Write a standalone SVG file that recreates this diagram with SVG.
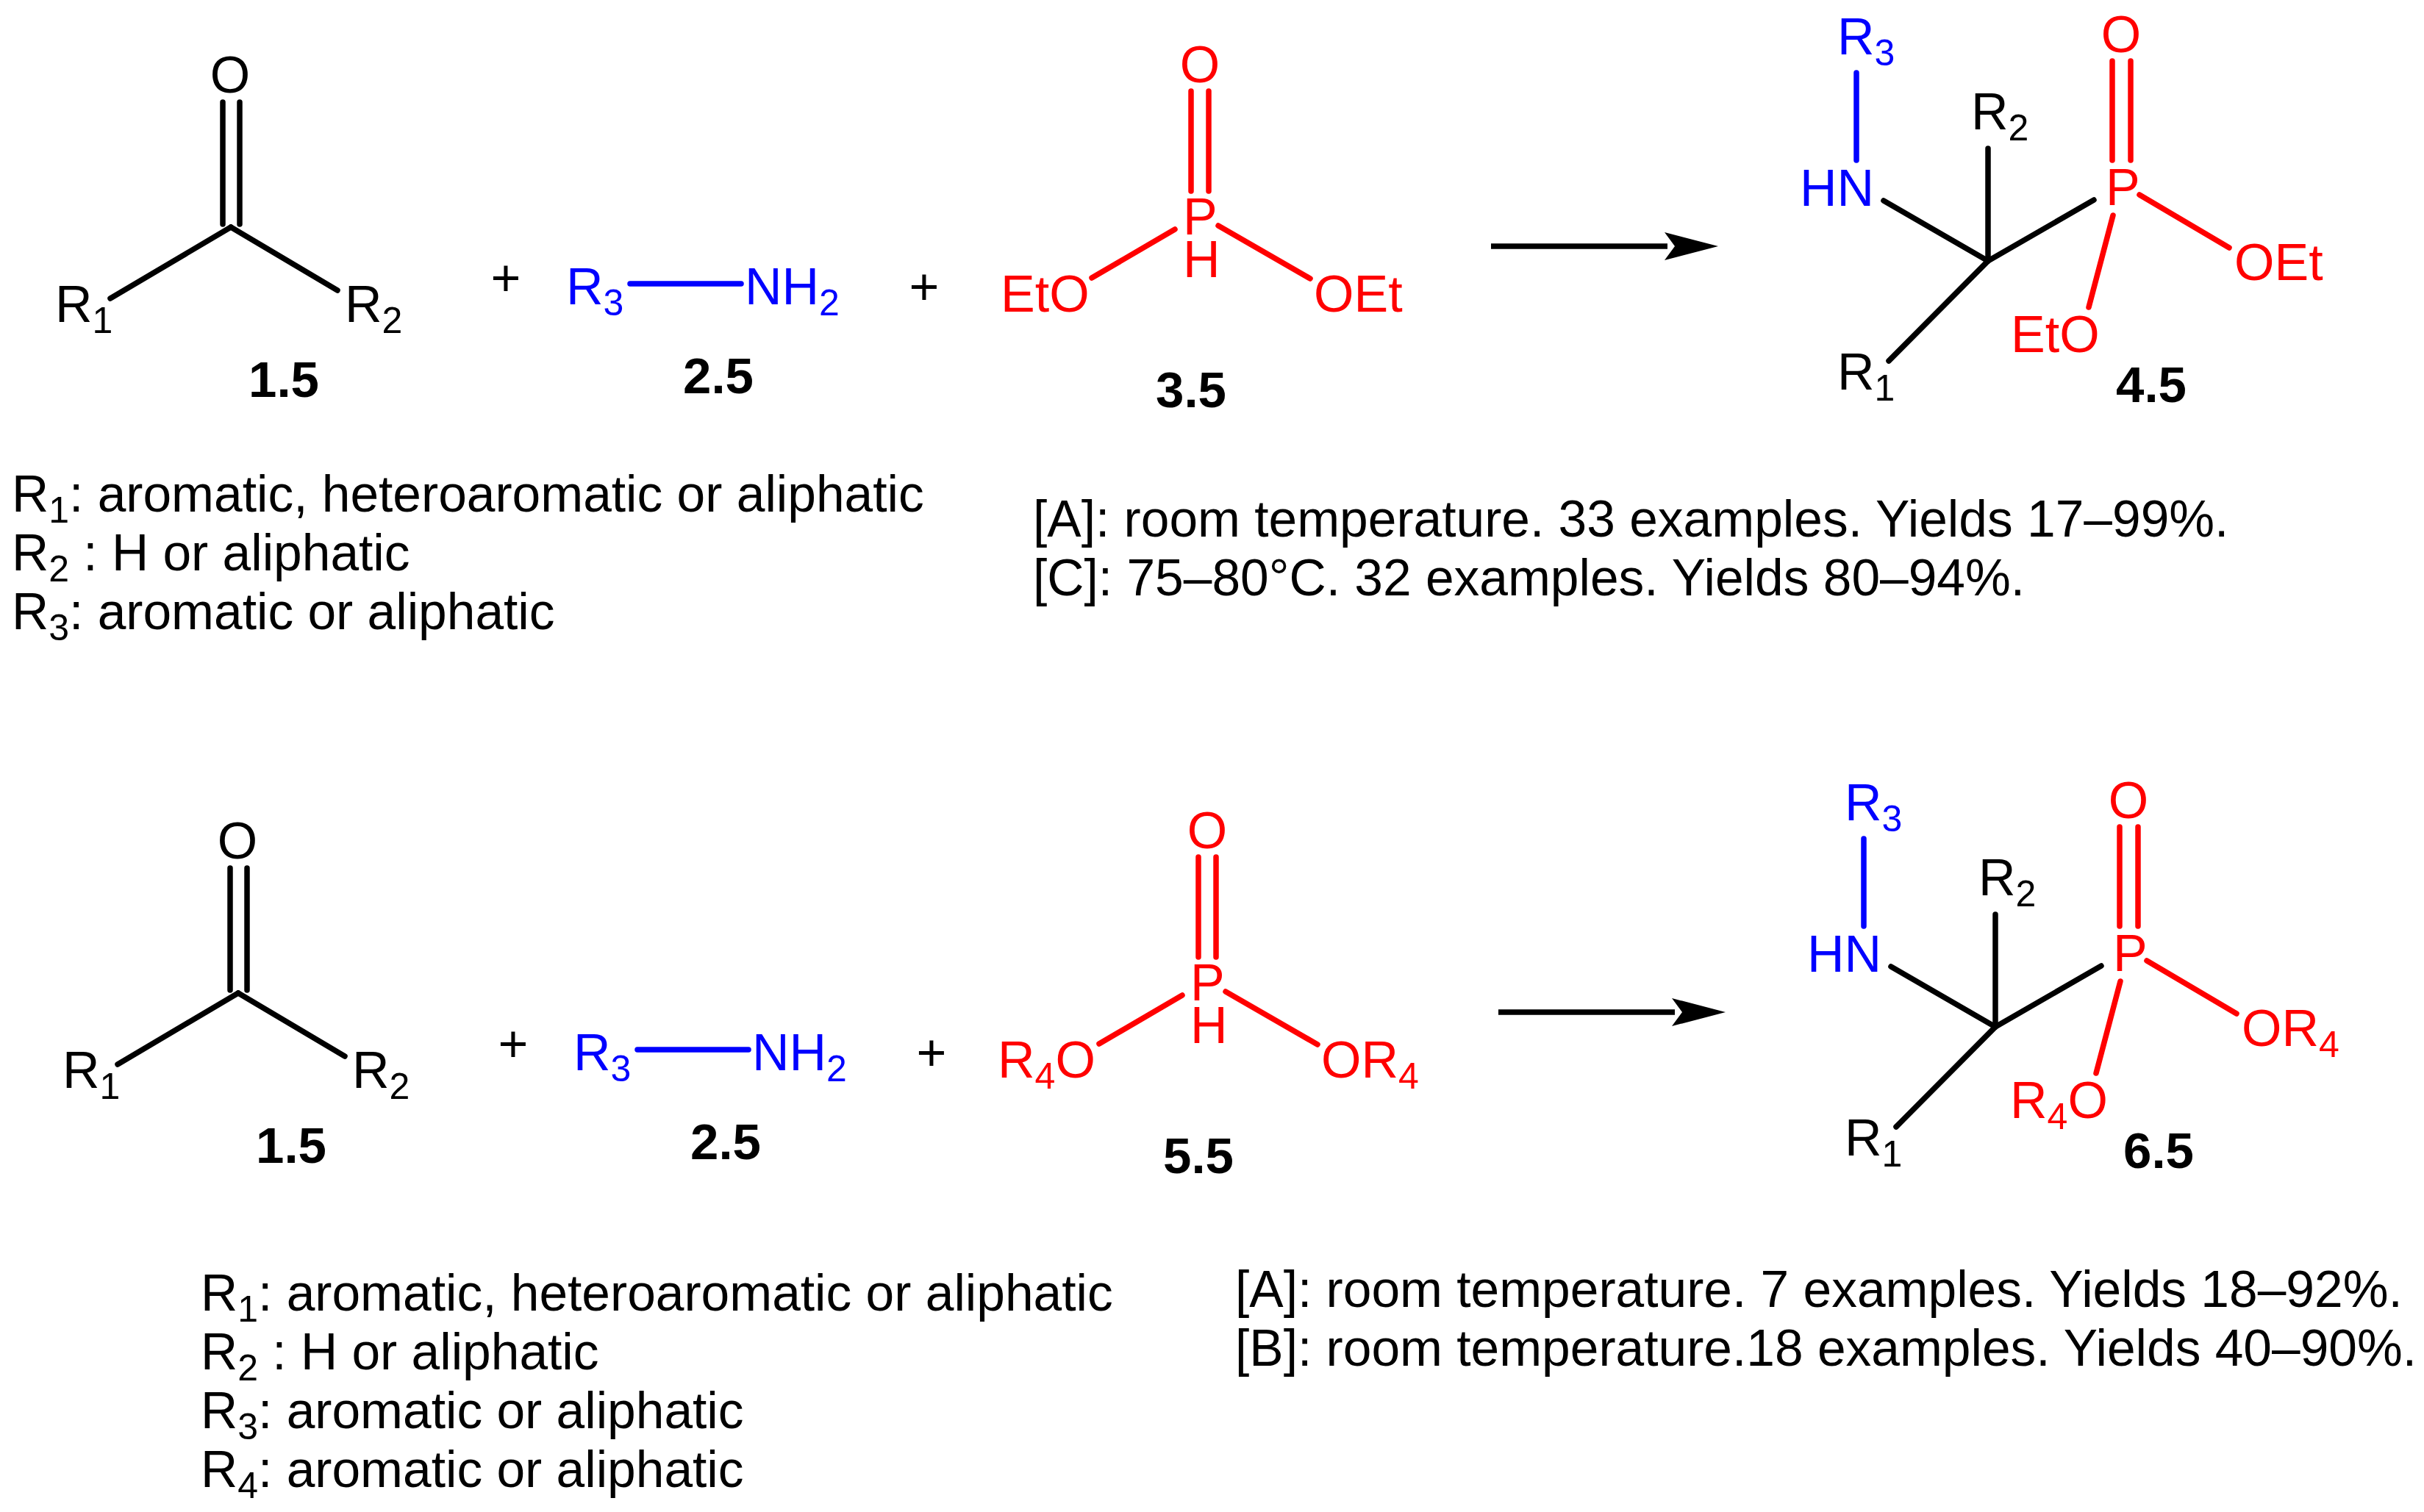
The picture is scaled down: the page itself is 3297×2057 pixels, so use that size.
<svg xmlns="http://www.w3.org/2000/svg" width="3297" height="2057" viewBox="0 0 3297 2057">
<style>
text{font-family:"Liberation Sans",Arial,sans-serif;font-size:70px}
.k{fill:#000}.b{fill:#00f}.r{fill:#f00}
.lab{font-weight:bold;text-anchor:middle;font-size:69px}
.m{text-anchor:middle}
.note text{font-size:69.5px}
tspan.s{font-size:50px}
.note tspan.t{font-size:69.5px}
line{stroke-width:7.5;fill:none;stroke-linecap:round}
.lk{stroke:#000}.lb{stroke:#00f}.lr{stroke:#f00}
</style>
<defs>
<g id="arrow"><line class="lk" x1="0" y1="0" x2="240" y2="0" style="stroke-linecap:butt"/><path d="M309 0L236-19L250 0L236 19Z" fill="#000"/></g>
<g id="ketone-bonds"><line class="lk" x1="313" y1="1179" x2="313" y2="1345"/><line class="lk" x1="336" y1="1179" x2="336" y2="1345"/><line class="lk" x1="160" y1="1446" x2="324" y2="1349"/><line class="lk" x1="469" y1="1435" x2="324" y2="1349"/></g>
<g id="amine-bond"><line class="lb" x1="867" y1="1426" x2="1018" y2="1426"/></g>
<g id="phosphite-bonds"><line class="lr" x1="1630" y1="1164" x2="1630" y2="1300"/><line class="lr" x1="1654" y1="1164" x2="1654" y2="1300"/><line class="lr" x1="1495" y1="1418" x2="1608" y2="1352"/><line class="lr" x1="1667" y1="1347" x2="1792" y2="1419"/></g>
<g id="product-bonds"><line class="lb" x1="2535" y1="1139" x2="2535" y2="1258"/><line class="lk" x1="2714" y1="1242" x2="2714" y2="1395"/><line class="lk" x1="2572" y1="1313" x2="2714" y2="1395"/><line class="lk" x1="2858" y1="1312" x2="2714" y2="1395"/><line class="lk" x1="2579" y1="1531" x2="2714" y2="1395"/><line class="lr" x1="2883" y1="1123" x2="2883" y2="1258"/><line class="lr" x1="2908" y1="1123" x2="2908" y2="1258"/><line class="lr" x1="2920" y1="1305" x2="3042" y2="1377"/><line class="lr" x1="2884" y1="1333" x2="2851" y2="1458"/></g>
</defs>
<rect width="3297" height="2057" fill="#fff"/>
<g id="connectors">
<g transform="translate(-10 -1040)">
<use href="#ketone-bonds"/><use href="#amine-bond"/><use href="#phosphite-bonds"/><use href="#product-bonds"/><use href="#arrow" x="2038" y="1375"/>
</g>
<g transform="translate(0 2)">
<use href="#ketone-bonds"/><use href="#amine-bond"/><use href="#phosphite-bonds"/><use href="#product-bonds"/><use href="#arrow" x="2038" y="1375"/>
</g>
</g>
<g id="reaction-top" transform="translate(-10 -1040)">
<g id="node-1-5-top">
<text class="k m" x="323" y="1166">O</text>
<text class="k" x="85" y="1478">R<tspan class="s" dy="15">1</tspan></text>
<text class="k" x="479" y="1478">R<tspan class="s" dy="15">2</tspan></text>
<text class="lab" x="396" y="1580">1.5</text>
</g>
<text class="k m" x="698" y="1442">+</text>
<g id="node-2-5-top">
<text class="b" x="780" y="1454">R<tspan class="s" dy="15">3</tspan></text>
<text class="b" x="1023" y="1454">NH<tspan class="s" dy="15">2</tspan></text>
<text class="lab" x="987" y="1575">2.5</text>
</g>
<text class="k m" x="1267" y="1454">+</text>
<g id="node-3-5">
<text class="r m" x="1642" y="1152">O</text>
<text class="r" x="1619" y="1359">P</text>
<text class="r" x="1619" y="1417">H</text>
<text class="r" x="1371" y="1464">EtO</text>
<text class="r" x="1797" y="1464">OEt</text>
<text class="lab" x="1630" y="1594">3.5</text>
</g>
<g id="node-4-5">
<text class="b" x="2458" y="1320">HN</text>
<text class="b" x="2509" y="1114">R<tspan class="s" dy="15">3</tspan></text>
<text class="k" x="2691" y="1216">R<tspan class="s" dy="15">2</tspan></text>
<text class="r" x="2874" y="1319">P</text>
<text class="r m" x="2895" y="1111">O</text>
<text class="r" x="3049" y="1421">OEt</text>
<text class="r" x="2745" y="1519">EtO</text>
<text class="k" x="2509" y="1570">R<tspan class="s" dy="15">1</tspan></text>
<text class="lab" x="2936" y="1587">4.5</text>
</g>
</g>
<g id="notes-top" class="note">
<text x="16" y="696">R<tspan class="s" dy="15">1</tspan><tspan dy="-15">: aromatic, heteroaromatic or aliphatic</tspan></text>
<text x="16" y="776">R<tspan class="s" dy="15">2</tspan><tspan dy="-15"> : H or aliphatic</tspan></text>
<text x="16" y="856">R<tspan class="s" dy="15">3</tspan><tspan dy="-15">: aromatic or aliphatic</tspan></text>
<text x="1405" y="730">[A]: room temperature. 33 examples. Yields 17–99%.</text>
<text x="1405" y="810">[C]: 75–80°C. 32 examples. Yields 80–94%.</text>
</g>
<g id="reaction-bottom" transform="translate(0 2)">
<g id="node-1-5-bottom">
<text class="k m" x="323" y="1166">O</text>
<text class="k" x="85" y="1478">R<tspan class="s" dy="15">1</tspan></text>
<text class="k" x="479" y="1478">R<tspan class="s" dy="15">2</tspan></text>
<text class="lab" x="396" y="1580">1.5</text>
</g>
<text class="k m" x="698" y="1442">+</text>
<g id="node-2-5-bottom">
<text class="b" x="780" y="1454">R<tspan class="s" dy="15">3</tspan></text>
<text class="b" x="1023" y="1454">NH<tspan class="s" dy="15">2</tspan></text>
<text class="lab" x="987" y="1575">2.5</text>
</g>
<text class="k m" x="1267" y="1454">+</text>
<g id="node-5-5">
<text class="r m" x="1642" y="1152">O</text>
<text class="r" x="1619" y="1359">P</text>
<text class="r" x="1619" y="1417">H</text>
<text class="r" x="1357" y="1464">R<tspan class="s" dy="15">4</tspan><tspan dy="-15">O</tspan></text>
<text class="r" x="1797" y="1464">OR<tspan class="s" dy="15">4</tspan></text>
<text class="lab" x="1630" y="1594">5.5</text>
</g>
<g id="node-6-5">
<text class="b" x="2458" y="1320">HN</text>
<text class="b" x="2509" y="1114">R<tspan class="s" dy="15">3</tspan></text>
<text class="k" x="2691" y="1216">R<tspan class="s" dy="15">2</tspan></text>
<text class="r" x="2874" y="1319">P</text>
<text class="r m" x="2895" y="1111">O</text>
<text class="r" x="3049" y="1421">OR<tspan class="s" dy="15">4</tspan></text>
<text class="r" x="2734" y="1519">R<tspan class="s" dy="15">4</tspan><tspan dy="-15">O</tspan></text>
<text class="k" x="2509" y="1570">R<tspan class="s" dy="15">1</tspan></text>
<text class="lab" x="2936" y="1587">6.5</text>
</g>
</g>
<g id="notes-bottom" class="note">
<text x="273" y="1783">R<tspan class="s" dy="15">1</tspan><tspan dy="-15">: aromatic, heteroaromatic or aliphatic</tspan></text>
<text x="273" y="1863">R<tspan class="s" dy="15">2</tspan><tspan dy="-15"> : H or aliphatic</tspan></text>
<text x="273" y="1943">R<tspan class="s" dy="15">3</tspan><tspan dy="-15">: aromatic or aliphatic</tspan></text>
<text x="273" y="2023">R<tspan class="s" dy="15">4</tspan><tspan dy="-15">: aromatic or aliphatic</tspan></text>
<text x="1680" y="1778">[A]: room temperature. 7 examples. Yields 18–92%.</text>
<text x="1680" y="1858">[B]: room temperature.18 examples. Yields 40–90%.</text>
</g>
</svg>
